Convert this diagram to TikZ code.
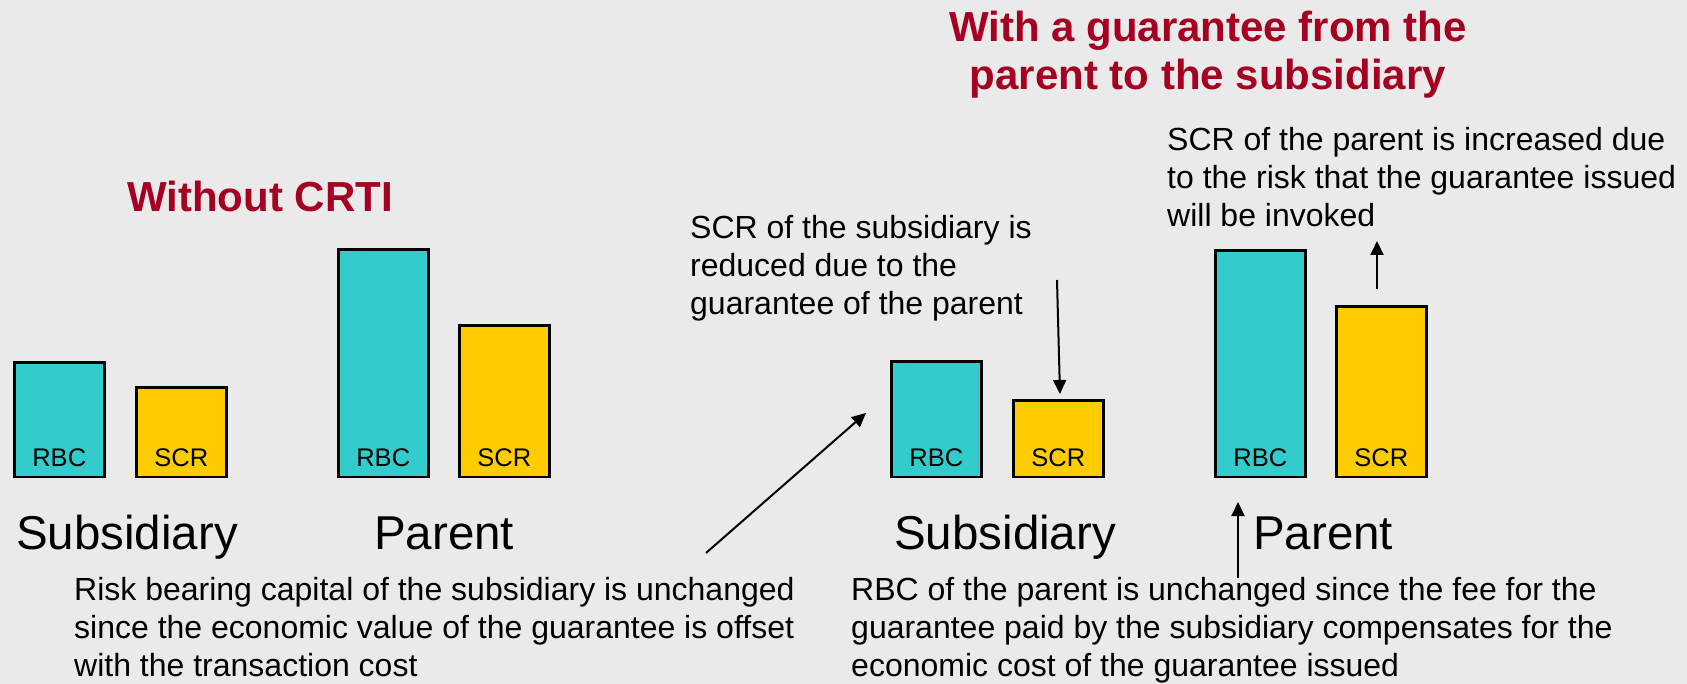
\documentclass[tikz,border=0pt]{standalone}
\usepackage{fontspec}
\setmainfont{Liberation Sans}
\usetikzlibrary{arrows.meta}
\definecolor{bg}{RGB}{234,234,234}
\definecolor{titlered}{RGB}{165,0,33}
\definecolor{barcyan}{RGB}{51,204,204}
\definecolor{baryellow}{RGB}{255,204,0}
\tikzset{
  bar/.style={draw=black, line width=2.5pt, rectangle, inner sep=0pt, minimum width=90pt, anchor=south west},
  rbcbar/.style={bar, fill=barcyan},
  scrbar/.style={bar, fill=baryellow},
  barlabel/.style={anchor=base, inner sep=0pt, font=\fontsize{25.5}{30}\selectfont},
  entity/.style={anchor=base west, inner sep=0pt, font=\fontsize{47.5}{56}\selectfont},
  heading/.style={inner sep=0pt, text=titlered, font=\fontsize{42}{48}\selectfont\bfseries},
  note/.style={anchor=base west, inner sep=0pt},
  pointer/.style={line width=2pt, -{Triangle[width=13pt,length=14pt]}}
}
\newcommand{\notetext}[2]{\parbox[t]{#1}{\fontsize{32}{38}\selectfont\raggedright #2}}
\begin{document}
\begin{tikzpicture}[x=1pt,y=-1pt]
\useasboundingbox (0,0) rectangle (1687,684);
\fill[bg] (0,0) rectangle (1687,684);

% headings
\node[heading, anchor=base west] (h1) at (127,212) {Without CRTI};
\node[heading, anchor=base] (h2) at (1208,42) {\parbox[t]{700pt}{\centering\fontsize{42}{48}\selectfont\bfseries With a guarantee from the\\parent to the subsidiary}};

% left group
\node[rbcbar, minimum height=114pt] (lsr) at (13,478) {};
\node[scrbar, minimum height=89pt] (lss) at (135,478) {};
\node[rbcbar, minimum height=227pt] (lpr) at (337,478) {};
\node[scrbar, minimum height=151pt] (lps) at (458,478) {};
\node[barlabel] (lsrl) at ([yshift=11pt]lsr.south) {RBC};
\node[barlabel] (lssl) at ([yshift=11pt]lss.south) {SCR};
\node[barlabel] (lprl) at ([yshift=11pt]lpr.south) {RBC};
\node[barlabel] (lpsl) at ([yshift=11pt]lps.south) {SCR};
\node[entity] (lsub) at (16,549) {Subsidiary};
\node[entity] (lpar) at (374,549) {Parent};

% right group
\node[rbcbar, minimum height=115pt] (rsr) at (890,478) {};
\node[scrbar, minimum height=76pt] (rss) at (1012,478) {};
\node[rbcbar, minimum height=226pt] (rpr) at (1214,478) {};
\node[scrbar, minimum height=170pt] (rps) at (1335,478) {};
\node[barlabel] (rsrl) at ([yshift=11pt]rsr.south) {RBC};
\node[barlabel] (rssl) at ([yshift=11pt]rss.south) {SCR};
\node[barlabel] (rprl) at ([yshift=11pt]rpr.south) {RBC};
\node[barlabel] (rpsl) at ([yshift=11pt]rps.south) {SCR};
\node[entity] (rsub) at (894,549) {Subsidiary};
\node[entity] (rpar) at (1253,549) {Parent};

% notes
\node[note] (n1) at (74,600) {\notetext{800pt}{Risk bearing capital of the subsidiary is unchanged\\since the economic value of the guarantee is offset\\with the transaction cost}};
\node[note] (n2) at (851,600) {\notetext{830pt}{RBC of the parent is unchanged since the fee for the\\guarantee paid by the subsidiary compensates for the\\economic cost of the guarantee issued}};
\node[note] (n3) at (690,239) {\notetext{450pt}{SCR of the subsidiary is\\reduced due to the\\guarantee of the parent}};
\node[note] (n4) at (1167,151) {\notetext{520pt}{SCR of the parent is increased due\\to the risk that the guarantee issued\\will be invoked}};

% arrows
\coordinate (a1s) at (706,553);
\coordinate (a1e) at (866,413);
\coordinate (a2s) at (1057,280);
\coordinate (a2e) at (1060,394);
\coordinate (a3s) at (1377,289);
\coordinate (a3e) at (1377,241);
\coordinate (a4s) at (1238,578);
\coordinate (a4e) at (1238,502);
\draw[pointer] (a1s) -- (a1e);
\draw[pointer] (a2s) -- (a2e);
\draw[pointer] (a3s) -- (a3e);
\draw[pointer] (a4s) -- (a4e);
\end{tikzpicture}
\end{document}
